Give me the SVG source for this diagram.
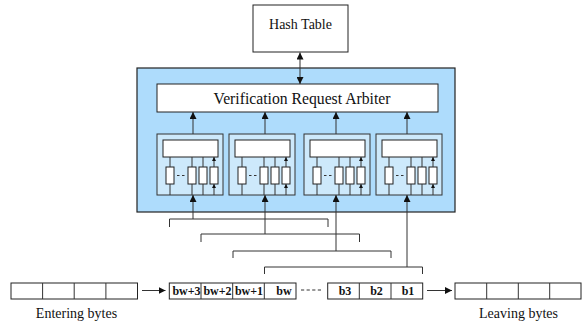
<svg xmlns="http://www.w3.org/2000/svg" width="588" height="322" viewBox="0 0 588 322">
<defs>
<style>
.box{fill:#fff;stroke:#222;stroke-width:1}
.ln{fill:none;stroke:#333;stroke-width:1}
.t{font-family:"Liberation Serif","Times New Roman",serif;fill:#111}
.b{font-family:"Liberation Serif","Times New Roman",serif;font-weight:bold;font-size:12px;fill:#111;text-anchor:middle}
.unit{fill:#CDE9FB;stroke:#333;stroke-width:1}
</style>
<marker id="ah" markerUnits="userSpaceOnUse" markerWidth="8" markerHeight="7" refX="7" refY="3.5" orient="auto-start-reverse"><path d="M0,0 L7,3.5 L0,7 z" fill="#111"/></marker>
<marker id="sa" markerUnits="userSpaceOnUse" markerWidth="5" markerHeight="4" refX="4" refY="2" orient="auto"><path d="M0,0 L4,2 L0,4 z" fill="#111"/></marker>
<g id="unitT">
<rect class="unit" x="0" y="0" width="66" height="61"/>
<rect class="box" x="6" y="6" width="55" height="17"/>
<rect class="box" x="9" y="33" width="8" height="17"/>
<rect class="box" x="31" y="33" width="8" height="17"/>
<rect class="box" x="42" y="33" width="8" height="17"/>
<rect class="box" x="53" y="33" width="8" height="17"/>
<path class="ln" d="M20,41.5h2.5M25,41.5h2.5"/>
<path class="ln" marker-end="url(#sa)" d="M13,61V50M35,61V50M46,61V50M57,61V50"/>
<path class="ln" marker-end="url(#sa)" d="M13,33V23M35,33V23M46,33V23M57,33V23"/>
</g>
</defs>
<rect width="588" height="322" fill="#fff"/>

<g id="hash-table">
<rect class="box" x="253" y="5" width="95" height="47"/>
<text class="t" x="300.5" y="28.5" font-size="14" text-anchor="middle">Hash Table</text>
</g>

<g id="verifier">
<rect x="137" y="68" width="318" height="144" fill="#AEDCFC" stroke="#222" stroke-width="1.2"/>
</g>

<g id="arbiter">
<rect class="box" x="157" y="84" width="281" height="28"/>
<text class="t" x="302" y="103.5" font-size="15.7" text-anchor="middle">Verification Request Arbiter</text>
</g>

<g id="unit1"><use href="#unitT" x="157" y="134"/></g>
<g id="unit2"><use href="#unitT" x="229" y="134"/></g>
<g id="unit3"><use href="#unitT" x="304" y="134"/></g>
<g id="unit4"><use href="#unitT" x="376" y="134"/></g>

<g id="entering">
<rect class="box" x="11" y="283" width="126.5" height="16"/>
<path class="ln" d="M42.6,283v16M74.2,283v16M105.9,283v16"/>
<text class="t" x="76.5" y="317.5" font-size="14" text-anchor="middle">Entering bytes</text>
</g>

<g id="window">
<rect class="box" x="169.3" y="283" width="126.7" height="16"/>
<path class="ln" d="M201,283v16M232.7,283v16M264.3,283v16"/>
<text class="b" x="186.5" y="294.5">bw+3</text>
<text class="b" x="217.5" y="294.5">bw+2</text>
<text class="b" x="249" y="294.5">bw+1</text>
<text class="b" x="284" y="294.5">bw</text>
<path class="ln" d="M301,290h20" stroke-dasharray="3.2,2.4"/>
<rect class="box" x="327.7" y="283" width="95" height="16"/>
<path class="ln" d="M359.3,283v16M391,283v16"/>
<text class="b" x="345" y="294.5">b3</text>
<text class="b" x="376.5" y="294.5">b2</text>
<text class="b" x="408" y="294.5">b1</text>
</g>

<g id="leaving">
<rect class="box" x="455" y="283" width="126" height="16"/>
<path class="ln" d="M486.7,283v16M518.3,283v16M549.7,283v16"/>
<text class="t" x="518.5" y="317.5" font-size="14" text-anchor="middle">Leaving bytes</text>
</g>

<g id="connectors">
<path class="ln" marker-start="url(#ah)" marker-end="url(#ah)" d="M300,52.5V84"/>
<path class="ln" marker-end="url(#ah)" d="M193,134V112"/>
<path class="ln" marker-end="url(#ah)" d="M265,134V112"/>
<path class="ln" marker-end="url(#ah)" d="M336,134V112"/>
<path class="ln" marker-end="url(#ah)" d="M407,134V112"/>
<path class="ln" d="M169.5,227V219H328V227"/>
<path class="ln" d="M201,242V234H359.5V242"/>
<path class="ln" d="M233,258V251H391V258"/>
<path class="ln" d="M264.5,274V267H422.5V274"/>
<path class="ln" marker-end="url(#ah)" d="M193,219V195"/>
<path class="ln" marker-end="url(#ah)" d="M265,234V195"/>
<path class="ln" marker-end="url(#ah)" d="M336,251V195"/>
<path class="ln" marker-end="url(#ah)" d="M407,267V195"/>
<path class="ln" marker-end="url(#ah)" d="M142,290.5H165.5"/>
<path class="ln" marker-end="url(#ah)" d="M427,290.5H452"/>
</g>
</svg>
